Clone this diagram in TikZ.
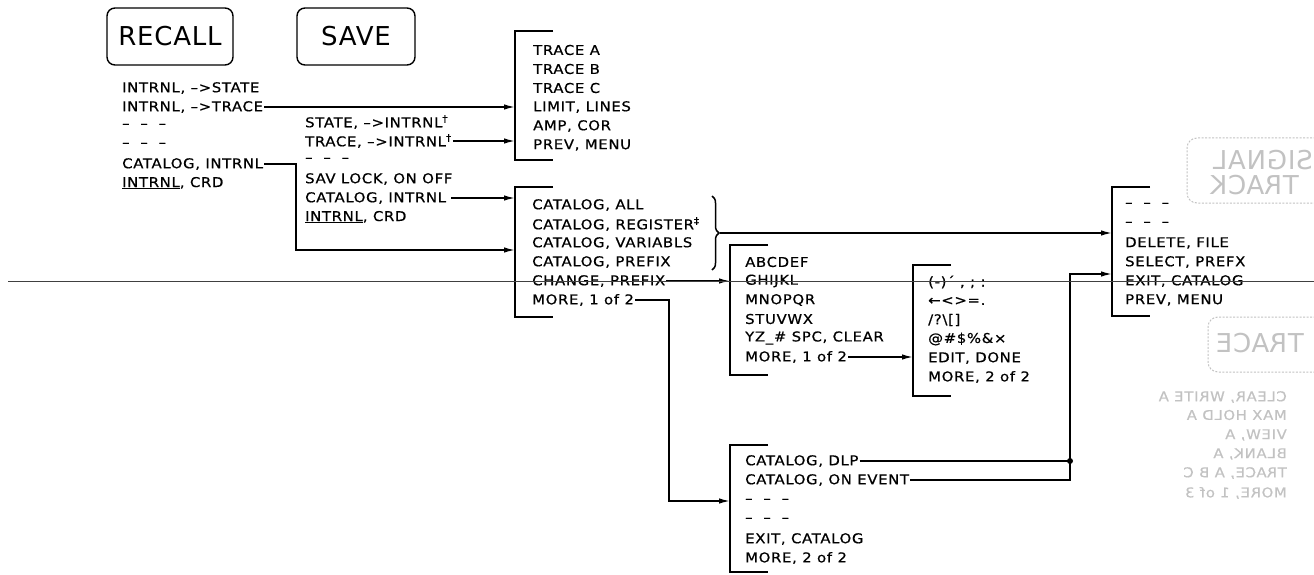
\documentclass[tikz,border=0pt]{standalone}
\usepackage{fontspec}
\newfontfamily\plotfont[FakeStretch=1.1, LetterSpace=5, FakeBold=0.6]{DejaVu Sans}
\newfontfamily\keyfont[LetterSpace=3]{DejaVu Sans}
\usetikzlibrary{arrows.meta,decorations.pathreplacing,calc}

% left bracket of a softkey menu: top and bottom corners
\newcommand{\menubracket}[2]{\draw[bracket] ([xshift=38pt]#1) -- (#1) -- (#2) -- ([xshift=38pt]#2);}

\begin{document}
\begin{tikzpicture}[x=1pt, y=-1pt,
    item/.style={anchor=west, inner sep=1pt, font=\plotfont\fontsize{13.5}{16}\selectfont},
    hardkey/.style={draw, line width=1.4pt, rounded corners=8pt, minimum height=57pt,
                    inner sep=0pt, font=\keyfont\fontsize{26}{30}\selectfont},
    bracket/.style={line width=2pt},
    wire/.style={line width=1.5pt},
    conn/.style={wire, -{Latex[length=11pt,width=5.5pt]}},
    ghost/.style={item, text=black!24, xscale=-1, transform shape},
    ghostbig/.style={ghost, font=\keyfont\fontsize{26}{30}\selectfont},
    ghostline/.style={draw=black!24, line width=1pt, dash pattern=on 2pt off 1.5pt, rounded corners=10pt}
]
\useasboundingbox (0,0) rectangle (1314,575);

% Hard keys
\node[hardkey, minimum width=126pt] (recall) at (170,36.5) {RECALL};
\node[hardkey, minimum width=118pt] (save) at (356,36.5) {SAVE};

% RECALL menu
\node[item] (rcState) at (121,88)  {INTRNL, –>STATE};
\node[item] (rcTrace) at (121,107) {INTRNL, –>TRACE};
\node[item] (rcDa)    at (121,126) {– \ – \ –};
\node[item] (rcDb)    at (121,145) {– \ – \ –};
\node[item] (rcCat)   at (121,164) {CATALOG, INTRNL};
\node[item] (rcCrd)   at (121,183) {\underline{INTRNL}, CRD};

% SAVE menu
\node[item] (svState) at (304,122) {STATE, –>INTRNL\textsuperscript{†}};
\node[item] (svTrace) at (304,141) {TRACE, –>INTRNL\textsuperscript{†}};
\node[item] (svDash)  at (304,160) {– \ – \ –};
\node[item] (svLock)  at (304,179) {SAV LOCK, ON OFF};
\node[item] (svCat)   at (304,198) {CATALOG, INTRNL};
\node[item] (svCrd)   at (304,217) {\underline{INTRNL}, CRD};

% Trace menu
\coordinate (trT) at (515,31);
\coordinate (trB) at (515,160);
\menubracket{trT}{trB}
\node[item] (trA)    at (532,50)  {TRACE A};
\node[item] (trBt)   at (532,69)  {TRACE B};
\node[item] (trC)    at (532,88)  {TRACE C};
\node[item] (trLim)  at (532,107) {LIMIT, LINES};
\node[item] (trAmp)  at (532,126) {AMP, COR};
\node[item] (trPrev) at (532,145) {PREV, MENU};

% Catalog menu
\coordinate (caT) at (515,187);
\coordinate (caB) at (515,317);
\menubracket{caT}{caB}
\node[item] (caAll)  at (531,205) {CATALOG, ALL};
\node[item] (caReg)  at (531,224) {CATALOG, REGISTER\textsuperscript{‡}};
\node[item] (caVar)  at (531,243) {CATALOG, VARIABLS};
\node[item] (caPre)  at (531,262) {CATALOG, PREFIX};
\node[item] (caChg)  at (531,281) {CHANGE, PREFIX};
\node[item] (caMore) at (531,300) {MORE, 1 of 2};
\draw[wire, decorate, decoration={brace, amplitude=7pt}] (712,196) -- (712,270);
\coordinate (brTip) at (720,233);

% Alpha menu
\coordinate (abT) at (730,245);
\coordinate (abB) at (730,375);
\menubracket{abT}{abB}
\node[item] (abA)    at (744,262) {ABCDEF};
\node[item] (abG)    at (744,281) {GHIJKL};
\node[item] (abM)    at (744,300) {MNOPQR};
\node[item] (abS)    at (744,319) {STUVWX};
\node[item] (abY)    at (744,338) {YZ\_\# SPC, CLEAR};
\node[item] (abMore) at (744,357) {MORE, 1 of 2};

% Symbol menu
\coordinate (syT) at (913,265);
\coordinate (syB) at (913,396);
\menubracket{syT}{syB}
\node[item] (syA)    at (927,282) {(-)´ , ; :};
\node[item] (syB2)   at (927,301) {←<>=.};
\node[item] (syC)    at (927,320) {/?\textbackslash[]};
\node[item] (syD)    at (927,339) {@\#\$\%\&×};
\node[item] (syEdit) at (927,358) {EDIT, DONE};
\node[item] (syMore) at (927,377) {MORE, 2 of 2};

% Catalog page 2
\coordinate (btT) at (730,445);
\coordinate (btB) at (730,572);
\menubracket{btT}{btB}
\node[item] (btDlp)  at (744,461) {CATALOG, DLP};
\node[item] (btEv)   at (744,480) {CATALOG, ON EVENT};
\node[item] (btDa)   at (744,501) {– \ – \ –};
\node[item] (btDb)   at (744,520) {– \ – \ –};
\node[item] (btExit) at (744,539) {EXIT, CATALOG};
\node[item] (btMore) at (744,558) {MORE, 2 of 2};

% File menu
\coordinate (rtT) at (1112,187);
\coordinate (rtB) at (1112,316);
\menubracket{rtT}{rtB}
\node[item] (rtDa)   at (1124,205) {– \ – \ –};
\node[item] (rtDb)   at (1124,224) {– \ – \ –};
\node[item] (rtDel)  at (1124,243) {DELETE, FILE};
\node[item] (rtSel)  at (1124,262) {SELECT, PREFX};
\node[item] (rtExit) at (1124,281) {EXIT, CATALOG};
\node[item] (rtPrev) at (1124,300) {PREV, MENU};

% Connectors
\coordinate (rcJog) at (296,250);
\coordinate (moreJog) at ([xshift=34pt]caMore.east |- btDa);
\coordinate (evJog) at (1070,274);
\draw[conn] (rcTrace.east) -- (rcTrace.east -| trT);
\draw[conn] (svTrace.east) -- (svTrace.east -| trT);
\draw[conn] ([xshift=4pt]svCat.east) -- (svCat.east -| caT);
\draw[conn] (rcCat.east) -| (rcJog) -- (rcJog -| caT);
\draw[conn] (brTip) -- (brTip -| rtT);
\draw[conn] (caChg.east) -- (caChg.east -| abT);
\draw[conn] (abMore.east) -- (abMore.east -| syT);
\draw[conn] (caMore.east) -| (moreJog) -- (moreJog -| btT);
\draw[wire] (btDlp.east) -- (btDlp.east -| evJog) coordinate (dlpDot);
\fill (dlpDot) circle (3pt);
\draw[conn] (btEv.east) -| (evJog) -- (evJog -| rtT);

% Line across the sheet
\coordinate (scanL) at (8,281);
\coordinate (scanR) at (1314,281);
\draw[line width=0.9pt, black!75] (scanL) -- (scanR);

% Show-through from the back of the sheet
\draw[ghostline] (1340,138) -- (1187,138) -- (1187,203) -- (1340,203);
\node[ghostbig] (gSig)   at (1314,160) {SIGNAL};
\node[ghostbig] (gTrk)   at (1300,185) {TRACK};
\draw[ghostline] (1340,317) -- (1208,317) -- (1208,372) -- (1340,372);
\node[ghostbig] (gTrace) at (1305,343) {TRACE};
\node[ghost] (gClr)  at (1288,397) {CLEAR, WRITE A};
\node[ghost] (gMax)  at (1288,415) {MAX HOLD A};
\node[ghost] (gView) at (1288,435) {VIEW, A};
\node[ghost] (gBlk)  at (1288,454) {BLANK, A};
\node[ghost] (gTrc)  at (1288,473) {TRACE, A B C};
\node[ghost] (gMore) at (1288,493) {MORE, 1 of 3};
\end{tikzpicture}
\end{document}
